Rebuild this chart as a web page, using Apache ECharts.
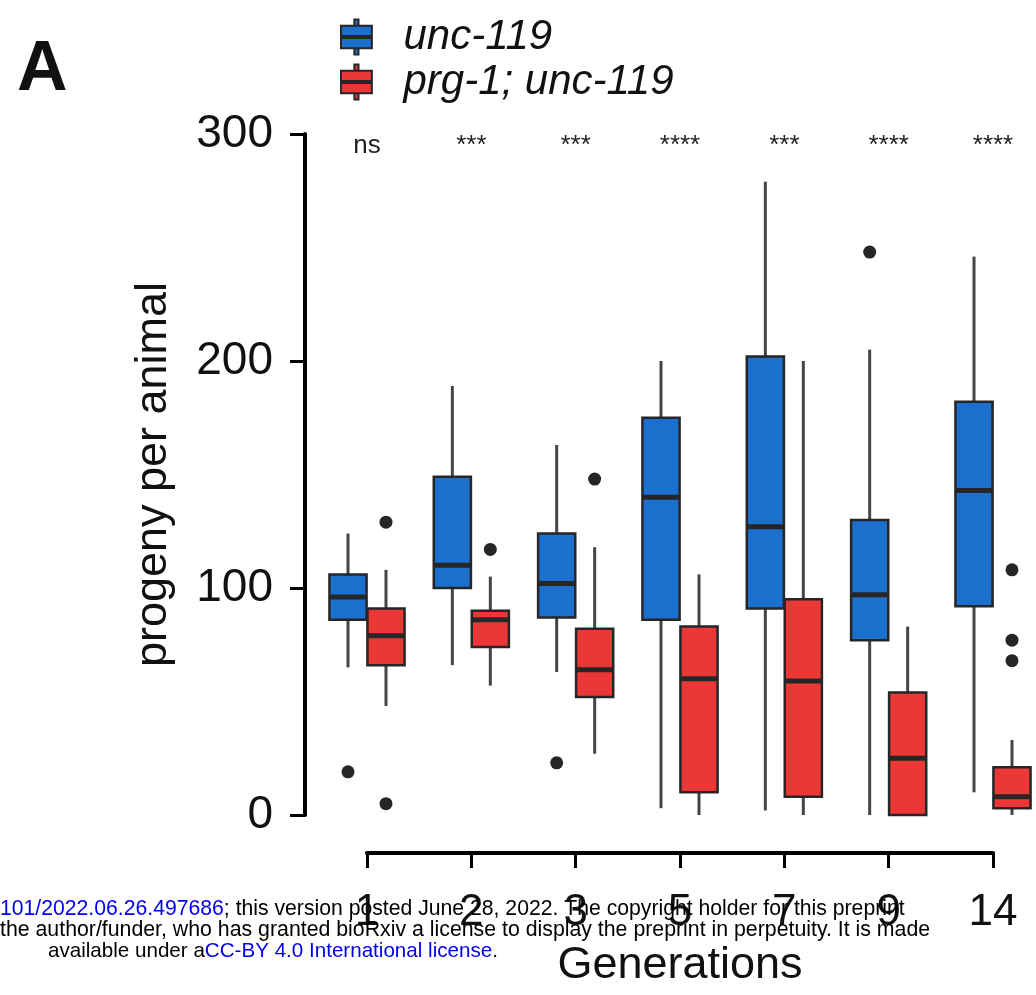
<!DOCTYPE html>
<html>
<head>
<meta charset="utf-8">
<title>progeny per animal</title>
<script src="https://cdn.jsdelivr.net/npm/echarts@6/dist/echarts.min.js"></script>
<style>
  html, body { margin: 0; padding: 0; background: #fff; }
  #chart { width: 1036px; height: 995px; }
</style>
</head>
<body>
<div id="chart"></div>
<script>
// generations on the x axis
const generations = ['1', '2', '3', '5', '7', '9', '14']

// box stats per generation: [min, q1, median, q3, max]
const uncBoxes = [
  [65, 86, 96, 106, 124],
  [66, 100, 110, 149, 189],
  [63, 87, 102, 124, 163],
  [3, 86, 140, 175, 200],
  [2, 91, 127, 202, 279],
  [0, 77, 97, 130, 205],
  [10, 92, 143, 182, 246]
]
const prgBoxes = [
  [48, 66, 79, 91, 108],
  [57, 74, 86, 90, 105],
  [27, 52, 64, 82, 118],
  [0, 10, 60, 83, 106],
  [0, 8, 59, 95, 200],
  [0, 0, 25, 54, 83],
  [0, 3, 8, 21, 33]
]

// outliers: [generation index, value]
const uncOutliers = [[0, 19], [2, 23], [5, 248]]
const prgOutliers = [[0, 129], [0, 5], [1, 117], [2, 148], [6, 108], [6, 77], [6, 68]]

// significance per generation
const sigLabels = ['ns', '***', '***', '****', '***', '****', '****']

const yTicks = [0, 100, 200, 300]

const BLUE = '#1b6fcd'
const RED = '#ec3737'
const EDGE = '#262626'
const WHISKER = '#454545'
const FONT = '"Liberation Sans", Arial, Helvetica, sans-serif'
const SIG_LEVEL = 295

const chart = echarts.init(document.getElementById('chart'))

// side: -1 left of the generation, +1 right
const renderBox = (side) => (params, api) => {
  const i = api.value(0)
  const band = api.size([1, 0])[0]
  const half = band * 0.178
  const x = api.coord([i, 0])[0] + side * band * 0.182
  const y = (dim) => api.coord([i, api.value(dim)])[1]
  const yMin = y(1), yQ1 = y(2), yMed = y(3), yQ3 = y(4), yMax = y(5)
  const whisker = { stroke: WHISKER, lineWidth: 3 }
  return {
    type: 'group',
    children: [
      { type: 'line', shape: { x1: x, y1: yMax, x2: x, y2: yQ3 }, style: whisker },
      { type: 'line', shape: { x1: x, y1: yQ1, x2: x, y2: yMin }, style: whisker },
      {
        type: 'rect',
        shape: { x: x - half, y: yQ3, width: half * 2, height: Math.max(yQ1 - yQ3, 0) },
        style: { fill: api.visual('color'), stroke: EDGE, lineWidth: 2.5 }
      },
      { type: 'line', shape: { x1: x - half, y1: yMed, x2: x + half, y2: yMed }, style: { stroke: EDGE, lineWidth: 5 } }
    ]
  }
}

const renderOutlier = (side) => (params, api) => {
  const band = api.size([1, 0])[0]
  const p = api.coord([api.value(0), api.value(1)])
  return {
    type: 'circle',
    shape: { cx: p[0] + side * band * 0.182, cy: p[1], r: 6.5 },
    style: { fill: EDGE }
  }
}

const boxSeries = (name, color, boxes, side) => ({
  name,
  type: 'custom',
  renderItem: renderBox(side),
  itemStyle: { color, borderColor: EDGE, borderWidth: 2 },
  encode: { x: 0, y: [1, 2, 3, 4, 5] },
  data: boxes.map((b, i) => [i, ...b]),
  z: 3
})

const outlierSeries = (name, color, points, side) => ({
  name,
  type: 'custom',
  renderItem: renderOutlier(side),
  itemStyle: { color },
  encode: { x: 0, y: 1 },
  data: points,
  z: 4
})

const legendIcon = 'path://M13,0H17V6H13Z M0,6H30V28H0Z M13,28H17V34H13Z M0,16H30V18H0Z'

chart.setOption({
  animation: false,
  textStyle: { fontFamily: FONT },
  grid: { left: 367, right: 43, top: 134, bottom: 180 },
  legend: {
    data: ['unc-119', 'prg-1; unc-119'],
    orient: 'vertical',
    left: 335,
    top: 11,
    icon: legendIcon,
    itemWidth: 32,
    itemHeight: 35,
    itemGap: 3,
    itemStyle: { borderColor: EDGE, borderWidth: 2 },
    textStyle: { fontSize: 42, fontStyle: 'italic', color: '#111', fontFamily: FONT, padding: [0, 0, 0, 26] }
  },
  xAxis: {
    type: 'category',
    data: generations,
    boundaryGap: false,
    offset: 38,
    name: 'Generations',
    nameLocation: 'middle',
    nameGap: 90,
    nameTextStyle: { fontSize: 45, color: '#111', fontFamily: FONT },
    axisLine: { onZero: false, lineStyle: { color: '#000', width: 4 } },
    axisTick: { length: 15, lineStyle: { color: '#000', width: 3 } },
    axisLabel: { interval: 0, fontSize: 44, color: '#111', margin: 38, fontFamily: FONT },
    splitLine: { show: false }
  },
  yAxis: {
    type: 'value',
    min: yTicks[0],
    max: yTicks[yTicks.length - 1],
    interval: 100,
    offset: 62,
    name: 'progeny per animal',
    nameLocation: 'middle',
    nameRotate: 90,
    nameGap: 129,
    nameTextStyle: { fontSize: 45, color: '#111', fontFamily: FONT },
    axisLine: { show: true, onZero: false, lineStyle: { color: '#000', width: 4 } },
    axisTick: { show: true, length: 15, lineStyle: { color: '#000', width: 3 } },
    axisLabel: { fontSize: 46, color: '#111', margin: 32, fontFamily: FONT },
    splitLine: { show: false }
  },
  graphic: [
    {
      type: 'text', left: 17, top: 36,
      style: { text: 'A', font: 'bold 70px ' + FONT, fill: '#111' }
    },
    {
      type: 'text', left: 0, top: 899, z: 100,
      style: {
        text: '{l|101/2022.06.26.497686}{t|; this version posted June 28, 2022. The copyright holder for this preprint}',
        rich: {
          l: { fontSize: 21.2, fontFamily: FONT, fill: '#0000ee' },
          t: { fontSize: 21.2, fontFamily: FONT, fill: '#000' }
        }
      }
    },
    {
      type: 'text', left: 0, top: 920, z: 100,
      style: {
        text: 'the author/funder, who has granted bioRxiv a license to display the preprint in perpetuity. It is made',
        font: '21.3px ' + FONT, fill: '#000'
      }
    },
    {
      type: 'text', left: 48, top: 941, z: 100,
      style: {
        text: '{t|available under a}{l|CC-BY 4.0 International license}{t|.}',
        rich: {
          l: { fontSize: 20.6, fontFamily: FONT, fill: '#0000ee' },
          t: { fontSize: 20.6, fontFamily: FONT, fill: '#000' }
        }
      }
    }
  ],
  series: [
    boxSeries('unc-119', BLUE, uncBoxes, -1),
    boxSeries('prg-1; unc-119', RED, prgBoxes, 1),
    outlierSeries('unc-119', BLUE, uncOutliers, -1),
    outlierSeries('prg-1; unc-119', RED, prgOutliers, 1),
    {
      // significance marks above each generation
      type: 'custom',
      silent: true,
      encode: { x: 0, y: 1 },
      data: sigLabels.map((s, i) => [i, SIG_LEVEL]),
      renderItem: (params, api) => {
        const p = api.coord([api.value(0), api.value(1)])
        return {
          type: 'text',
          x: p[0],
          y: p[1],
          style: {
            text: sigLabels[params.dataIndex],
            fontSize: 26,
            fontFamily: FONT,
            fill: '#222',
            align: 'center',
            verticalAlign: 'middle'
          }
        }
      }
    }
  ]
})
</script>
</body>
</html>
